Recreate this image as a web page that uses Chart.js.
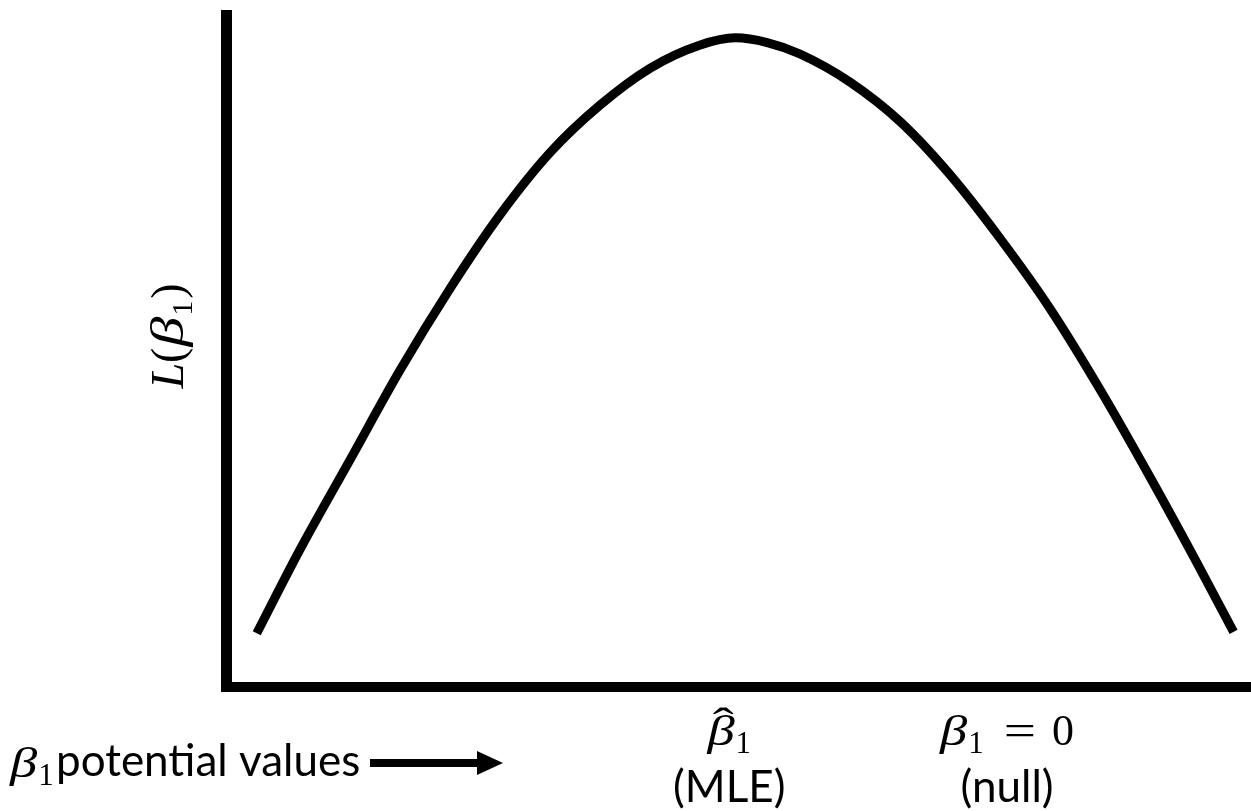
<!DOCTYPE html>
<html>
<head>
<meta charset="utf-8">
<script src="https://cdn.jsdelivr.net/npm/chart.js@4.4.1/dist/chart.umd.min.js"></script>
<style>
html,body{margin:0;padding:0;background:#fff;}
#c{display:block;}
</style>
</head>
<body>
<canvas id="c" width="1251" height="811"></canvas>
<script>
// Curve: likelihood L(beta1) over potential beta1 values (arbitrary units)
const betaValues = [3.0, 7.2, 12.1, 17.0, 21.9, 26.7, 31.6, 36.5, 41.4, 46.2, 49.7, 52.8, 56.0, 60.9, 65.8, 70.6, 75.5, 80.4, 85.3, 90.2, 95.0, 98.3];
const likelihoodValues = [8.0, 20.4, 33.8, 47.2, 59.4, 70.2, 79.5, 86.6, 92.1, 95.5, 96.6, 95.9, 94.2, 90.0, 84.1, 76.3, 66.8, 56.3, 44.2, 31.1, 17.7, 8.2];
// Marked positions on the beta axis
const markerValues = [49.1, 76.2];
const markerKinds = ['hat', 'zero'];
const markerNotes = ['(MLE)', '(null)'];
const axisCaption = 'potential values';

const SANS = 'Lato, "Open Sans", sans-serif';
const SERIF = '"Liberation Serif", "DejaVu Serif", serif';
const BETA_STRETCH = 1.3;

function betaWidth(ctx, size, subSize) {
  ctx.font = 'italic ' + size + 'px ' + SERIF;
  const bw = ctx.measureText('β').width * BETA_STRETCH;
  ctx.font = subSize + 'px ' + SERIF;
  const sw = ctx.measureText('1').width;
  return {bw, sw, total: bw + 1 + sw};
}

function drawBeta(ctx, x, baseline, size, subSize, hat) {
  const m = betaWidth(ctx, size, subSize);
  ctx.save();
  ctx.translate(x, baseline);
  ctx.scale(BETA_STRETCH, 1);
  ctx.font = 'italic ' + size + 'px ' + SERIF;
  ctx.fillText('β', 0, 0);
  ctx.restore();
  if (hat) {
    ctx.save();
    ctx.font = size * 1.0 + 'px ' + SERIF;
    const hw = ctx.measureText('ˆ').width;
    ctx.translate(x + m.bw * 0.58, baseline - size * 0.2);
    ctx.scale(1.5, 1);
    ctx.fillText('ˆ', -hw / 2, 0);
    ctx.restore();
  }
  ctx.font = subSize + 'px ' + SERIF;
  ctx.fillText('1', x + m.bw + 1, baseline + size * 0.19);
  return m.total;
}

const textPlugin = {
  id: 'texts',
  afterDraw(chart) {
    const ctx = chart.ctx;
    const xs = chart.scales.x;
    ctx.save();
    ctx.fillStyle = '#000';
    ctx.textBaseline = 'alphabetic';
    ctx.textAlign = 'left';
    const MS = 42, SUB = 31, OPS = 44;
    // Marker labels
    markerValues.forEach((v, i) => {
      const cx = xs.getPixelForValue(v);
      if (markerKinds[i] === 'hat') {
        const m = betaWidth(ctx, MS, SUB);
        drawBeta(ctx, cx - m.total / 2, 745, MS, SUB, true);
      } else {
        const m = betaWidth(ctx, MS, SUB);
        ctx.font = OPS + 'px ' + SERIF;
        const ew = ctx.measureText('=').width * 1.3;
        const zw = ctx.measureText('0').width;
        const gap1 = 20, gap2 = 16;
        const w = m.total + gap1 + ew + gap2 + zw;
        let x = cx - w / 2;
        x += drawBeta(ctx, x, 745, MS, SUB, false) + gap1;
        ctx.save();
        ctx.font = OPS + 'px ' + SERIF;
        ctx.translate(x, 745);
        ctx.scale(1.3, 1);
        ctx.fillText('=', 0, 0);
        ctx.restore();
        x += ew + gap2;
        ctx.font = OPS + 'px ' + SERIF;
        ctx.fillText('0', x, 745);
      }
      ctx.font = '44px ' + SANS;
      ctx.textAlign = 'center';
      ctx.fillText(markerNotes[i], cx, 802);
      ctx.textAlign = 'left';
    });
    // Axis caption at bottom-left
    drawBeta(ctx, 10, 777, MS, SUB, false);
    ctx.font = '44px ' + SANS;
    ctx.fillText(axisCaption, 56, 776);
    // Arrow
    ctx.fillRect(370, 759, 110, 8);
    ctx.beginPath();
    ctx.moveTo(477, 751);
    ctx.lineTo(503, 763);
    ctx.lineTo(477, 775);
    ctx.closePath();
    ctx.fill();
    // Y axis title L(beta1), rotated
    ctx.save();
    ctx.translate(183, 336);
    ctx.rotate(-Math.PI / 2);
    const YS = 46, YSUB = 30;
    ctx.font = 'italic ' + YS + 'px ' + SERIF;
    const lw = ctx.measureText('L').width;
    ctx.font = YS + 'px ' + SERIF;
    const pw = ctx.measureText('(').width;
    const bm = betaWidth(ctx, YS, YSUB);
    const total = lw + pw + 1 + bm.total + 2 + pw;
    let x = -total / 2;
    ctx.font = 'italic ' + YS + 'px ' + SERIF;
    ctx.fillText('L', x, 0); x += lw;
    ctx.font = YS + 'px ' + SERIF;
    ctx.fillText('(', x, 0); x += pw + 1;
    x += drawBeta(ctx, x, 0, YS, YSUB, false) + 2;
    ctx.font = YS + 'px ' + SERIF;
    ctx.fillText(')', x, 0);
    ctx.restore();
    ctx.restore();
  }
};

new Chart(document.getElementById('c'), {
  type: 'line',
  data: {
    datasets: [{
      data: betaValues.map((b, i) => ({x: b, y: likelihoodValues[i]})),
      borderColor: '#000',
      borderWidth: 9,
      pointRadius: 0,
      tension: 0.4,
      cubicInterpolationMode: 'monotone',
      fill: false,
      borderCapStyle: 'butt'
    }]
  },
  options: {
    responsive: false,
    animation: false,
    devicePixelRatio: 1,
    layout: {padding: {top: 15, left: 226, right: 0, bottom: 124}},
    plugins: {legend: {display: false}, tooltip: {enabled: false}},
    scales: {
      x: {
        type: 'linear', min: 0, max: 100,
        grid: {display: false, drawTicks: false},
        ticks: {display: false},
        border: {display: true, color: '#000', width: 10}
      },
      y: {
        type: 'linear', min: 0, max: 100,
        grid: {display: false, drawTicks: false},
        ticks: {display: false},
        border: {display: true, color: '#000', width: 11}
      }
    }
  },
  plugins: [textPlugin]
});
</script>
</body>
</html>
